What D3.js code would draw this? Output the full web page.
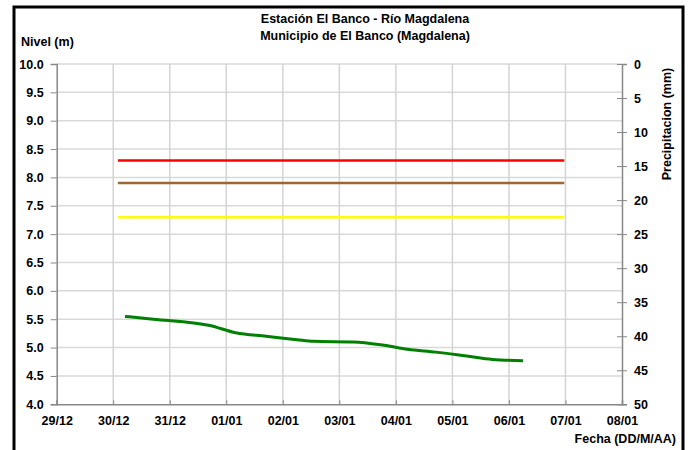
<!DOCTYPE html>
<html>
<head>
<meta charset="utf-8">
<script src="https://cdn.jsdelivr.net/npm/d3@7"></script>
<style>
  body { margin: 0; background: #fff; }
  svg { font-family: "Liberation Sans", Arial, sans-serif; font-weight: bold; }
</style>
</head>
<body>
<div id="chart"></div>
<script>
// Level readings (m)
const levelDates = ["2013-12-30T05:00", "2013-12-30T17:00", "2013-12-31T17:00", "2014-01-01T04:00",
  "2014-01-01T17:00", "2014-01-02T06:00", "2014-01-02T13:00", "2014-01-03T06:00", "2014-01-03T19:00",
  "2014-01-04T05:00", "2014-01-04T17:00", "2014-01-05T06:00", "2014-01-05T17:00", "2014-01-06T06:00"];
const levelValues = [5.55, 5.50, 5.39, 5.26, 5.20, 5.14, 5.11, 5.10, 5.04, 4.97, 4.92, 4.85, 4.79, 4.77];

// Alert thresholds
const thresholdValues = [8.3, 7.9, 7.3];
const thresholdColors = ["#ff0000", "#a0662f", "#ffff00"];
const thresholdSpan = ["2013-12-30T02:00", "2014-01-06T23:30"];

const levelTicks = d3.range(4, 10.01, 0.5);
const rainTicks = d3.range(0, 51, 5);

const W = 692, H = 450;
const parse = d3.isoParse;

const svg = d3.select("#chart").append("svg")
  .attr("width", W)
  .attr("height", H);

const x = d3.scaleTime()
  .domain([new Date(2013, 11, 29), new Date(2014, 0, 8)])
  .range([56.7, 622]);
const y = d3.scaleLinear().domain([4, 10]).range([404.3, 64]);
const yRain = d3.scaleLinear().domain([0, 50]).range([64, 404.3]);

// Gridlines
svg.append("g")
  .selectAll("line")
  .data(levelTicks.slice(1))
  .enter()
  .append("line")
  .attr("x1", x.range()[0]).attr("x2", x.range()[1])
  .attr("y1", d => y(d)).attr("y2", d => y(d))
  .attr("stroke", "#d9d9d9").attr("stroke-width", 1.5);

svg.append("g")
  .selectAll("line")
  .data(x.ticks(d3.timeDay.every(1)).slice(1, -1))
  .enter()
  .append("line")
  .attr("x1", d => x(d)).attr("x2", d => x(d))
  .attr("y1", y.range()[0]).attr("y2", y.range()[1])
  .attr("stroke", "#d4d4d4").attr("stroke-width", 1.5);

// Left axis
const yAxis = svg.append("g")
  .attr("transform", "translate(" + x.range()[0] + ",0)")
  .call(d3.axisLeft(y).tickValues(levelTicks).tickFormat(d3.format(".1f")).tickSize(6).tickPadding(7));
yAxis.selectAll("text").attr("font-size", 12.5).attr("font-family", "Liberation Sans").attr("font-weight", "bold").attr("fill", "#000");

// Right axis
const rAxis = svg.append("g")
  .attr("transform", "translate(" + x.range()[1] + ",0)")
  .call(d3.axisRight(yRain).tickValues(rainTicks).tickSize(5).tickPadding(7));
rAxis.selectAll(".tick line").attr("x1", -5);
rAxis.selectAll("text").attr("font-size", 12.5).attr("font-family", "Liberation Sans").attr("font-weight", "bold").attr("fill", "#000");

// Bottom axis
const xAxis = svg.append("g")
  .attr("transform", "translate(0," + y.range()[0] + ")")
  .call(d3.axisBottom(x).ticks(d3.timeDay.every(1)).tickFormat(d3.timeFormat("%d/%m")).tickSize(-4).tickPadding(12));
xAxis.selectAll("text").attr("font-size", 12.5).attr("font-family", "Liberation Sans").attr("font-weight", "bold").attr("fill", "#000");

svg.selectAll(".domain").attr("stroke", "#888").attr("stroke-width", 1.5);
svg.selectAll(".tick line").attr("stroke", "#888");

// Threshold lines
svg.append("g")
  .selectAll("line")
  .data(thresholdValues)
  .enter()
  .append("line")
  .attr("x1", x(parse(thresholdSpan[0]))).attr("x2", x(parse(thresholdSpan[1])))
  .attr("y1", d => y(d)).attr("y2", d => y(d))
  .attr("stroke", (d, i) => thresholdColors[i])
  .attr("stroke-width", 2.5);

// Level line
const line = d3.line()
  .x(d => x(parse(d[0])))
  .y(d => y(d[1]))
  .curve(d3.curveMonotoneX);

svg.append("path")
  .datum(d3.zip(levelDates, levelValues))
  .attr("d", line)
  .attr("fill", "none")
  .attr("stroke", "#008000")
  .attr("stroke-width", 3);

// Titles
svg.append("text").attr("x", 365).attr("y", 23).attr("text-anchor", "middle")
  .attr("font-size", 12.5).text("Estación El Banco - Río Magdalena");
svg.append("text").attr("x", 365).attr("y", 40).attr("text-anchor", "middle")
  .attr("font-size", 12.5).text("Municipio de El Banco (Magdalena)");
svg.append("text").attr("x", 21).attr("y", 46).attr("font-size", 12.5).text("Nivel (m)");
svg.append("text").attr("x", 676).attr("y", 443).attr("text-anchor", "end")
  .attr("font-size", 12.5).text("Fecha (DD/M/AA)");
svg.append("text")
  .attr("transform", "translate(671,124) rotate(-90)")
  .attr("text-anchor", "middle")
  .attr("font-size", 12.5).text("Precipitacion (mm)");

// Frame
svg.append("rect")
  .attr("x", 14).attr("y", 7).attr("width", 669).attr("height", 460)
  .attr("fill", "none").attr("stroke", "#000").attr("stroke-width", 3);
</script>
</body>
</html>
